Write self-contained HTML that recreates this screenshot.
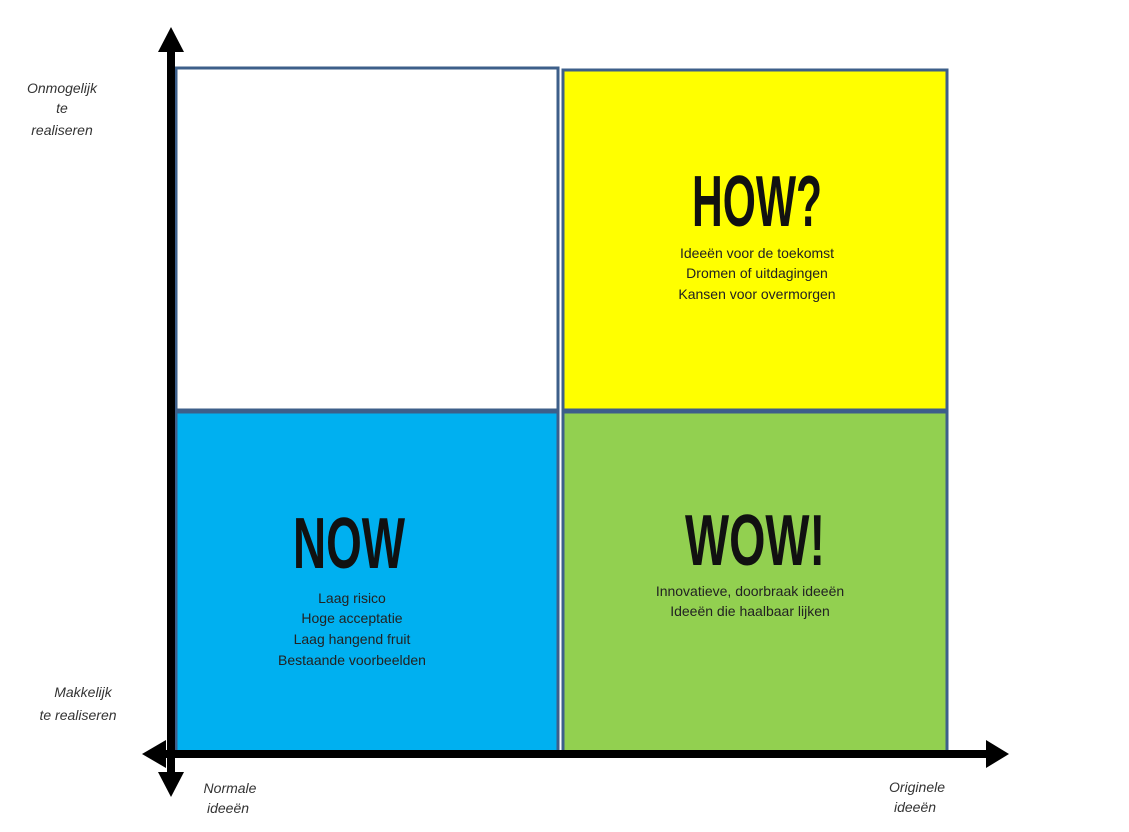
<!DOCTYPE html>
<html><head><style>html,body{margin:0;padding:0;background:#fff}svg{display:block}</style></head>
<body>
<svg width="1129" height="832" xmlns="http://www.w3.org/2000/svg" font-family="Liberation Sans, sans-serif">
<rect x="176" y="68" width="382" height="342" fill="#fff" stroke="#3d5f8a" stroke-width="3"/>
<rect x="563" y="70" width="384" height="340" fill="#ffff00" stroke="#3d5f8a" stroke-width="3"/>
<rect x="176" y="412" width="382" height="340" fill="#00b0f0" stroke="#3d5f8a" stroke-width="3"/>
<rect x="563" y="412" width="384" height="340" fill="#92d050" stroke="#3d5f8a" stroke-width="3"/>
<!-- axes -->
<rect x="167" y="44" width="8" height="730" fill="#000"/>
<polygon points="171,27 158,52 184,52" fill="#000"/>
<polygon points="171,797 158,772 184,772" fill="#000"/>
<rect x="160" y="750" width="830" height="8" fill="#000"/>
<polygon points="142,754 166,740 166,768" fill="#000"/>
<polygon points="1009,754 986,740 986,768" fill="#000"/>
<g font-family="Liberation Sans Narrow, Liberation Sans, sans-serif" font-weight="bold" fill="#111" text-anchor="middle">
<text x="757" y="226" font-size="72" textLength="130" lengthAdjust="spacingAndGlyphs">HOW?</text>
<text x="349" y="568" font-size="72" textLength="112" lengthAdjust="spacingAndGlyphs">NOW</text>
<text x="755" y="565" font-size="72" textLength="140" lengthAdjust="spacingAndGlyphs">WOW!</text>
</g>
<g font-size="14" fill="#222" text-anchor="middle">
<text x="757" y="258">Ideeën voor de toekomst</text>
<text x="757" y="278">Dromen of uitdagingen</text>
<text x="757" y="299">Kansen voor overmorgen</text>
<text x="352" y="603">Laag risico</text>
<text x="352" y="623">Hoge acceptatie</text>
<text x="352" y="644">Laag hangend fruit</text>
<text x="352" y="665">Bestaande voorbeelden</text>
<text x="750" y="596">Innovatieve, doorbraak ideeën</text>
<text x="750" y="616">Ideeën die haalbaar lijken</text>
</g>
<g font-size="14" font-style="italic" fill="#333" text-anchor="middle">
<text x="62" y="93">Onmogelijk</text>
<text x="62" y="113">te</text>
<text x="62" y="135">realiseren</text>
<text x="83" y="697">Makkelijk</text>
<text x="78" y="720">te realiseren</text>
<text x="230" y="793">Normale</text>
<text x="228" y="813">ideeën</text>
<text x="917" y="792">Originele</text>
<text x="915" y="812">ideeën</text>
</g>
</svg>
</body></html>
